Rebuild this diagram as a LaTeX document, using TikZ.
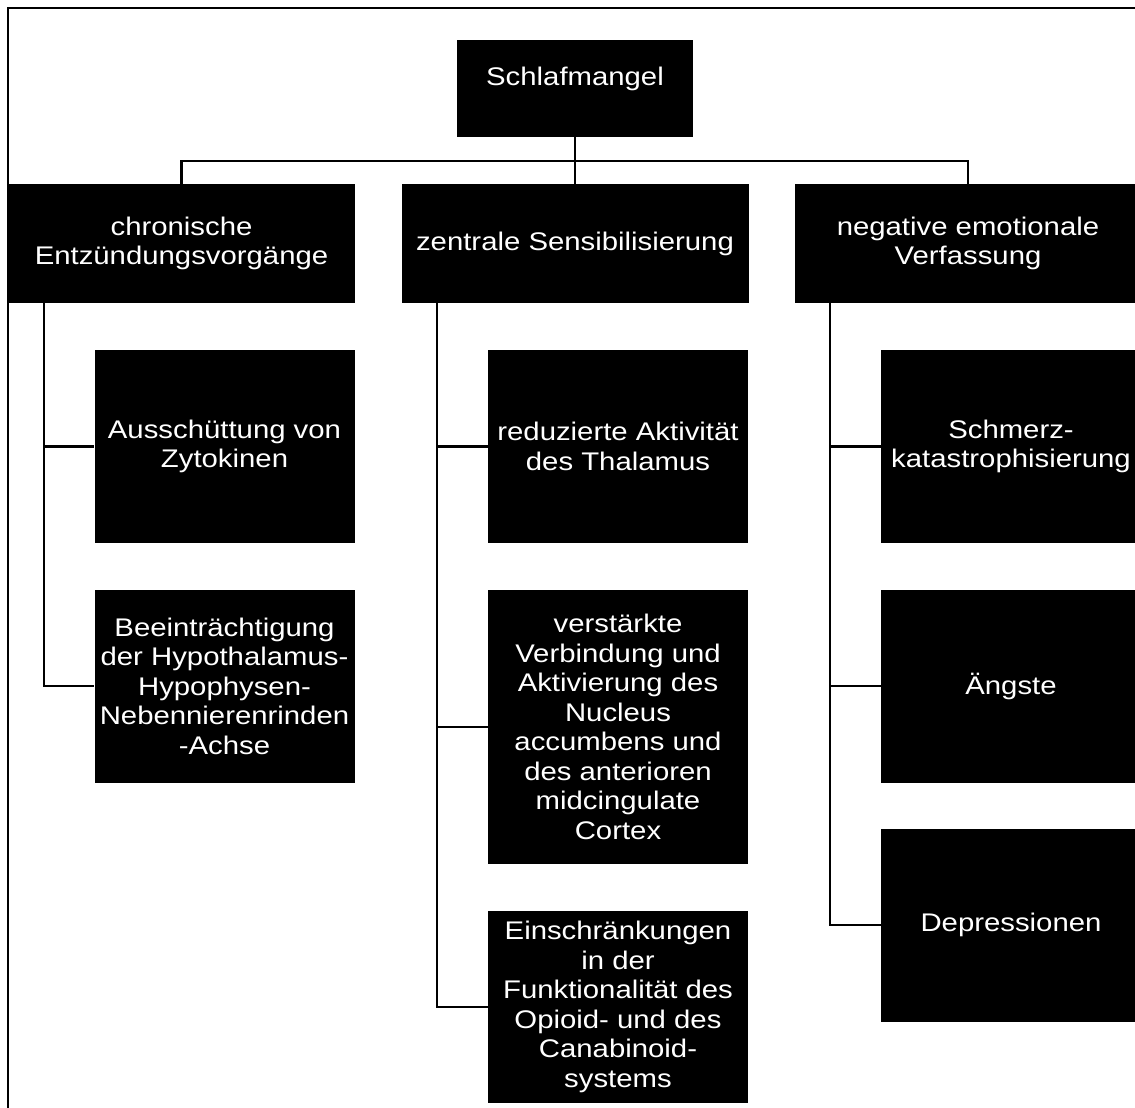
\documentclass[tikz,border=0pt]{standalone}
\usepackage{fontspec}
\setmainfont{Liberation Sans}[FakeStretch=1.15]
\usetikzlibrary{calc}
\tikzset{
  box/.style={fill=black, text=white, align=center, inner sep=0pt,
    font=\fontsize{25.5}{29.5}\selectfont},
  boxlabel/.style={text=white, align=center, inner sep=0pt,
    font=\fontsize{25.5}{29.5}\selectfont},
  link/.style={draw=black, line width=2.2pt},
  frame/.style={draw=black, line width=2pt}
}
\begin{document}
\begin{tikzpicture}[x=1pt,y=-1pt]
\useasboundingbox (0,0) rectangle (1135,1108);
\clip (0,0) rectangle (1135,1108);
\draw[frame] (8,1110) -- (8,8) -- (1137,8);
% level 0
\node[box, minimum width=236pt, minimum height=97pt] (top) at (575,88.5) {};
\node[boxlabel] (toplabel) at ($(top.center)+(0,-10)$) {Schlafmangel};
% level 1
\node[box, minimum width=347pt, minimum height=119pt] (c1) at (181.5,243.5) {chronische\\Entzündungsvorgänge};
\node[box, minimum width=347pt, minimum height=119pt] (c2) at (575,243.5) {zentrale Sensibilisierung};
\node[box, minimum width=346pt, minimum height=119pt] (c3) at (968,243.5) {negative emotionale\\Verfassung};
% column 1
\node[box, minimum width=260pt, minimum height=193pt] (a1) at (224.5,446.5) {Ausschüttung von\\Zytokinen};
\node[box, minimum width=260pt, minimum height=193pt] (a2) at (224.5,686) {Beeinträchtigung\\der Hypothalamus-\\Hypophysen-\\Nebennierenrinden\\-Achse};
% column 2
\node[box, minimum width=260pt, minimum height=193pt] (b1) at (618,446.5) {reduzierte Aktivität\\des Thalamus};
\node[box, minimum width=260pt, minimum height=274pt] (b2) at (618,727) {verstärkte\\Verbindung und\\Aktivierung des\\Nucleus\\accumbens und\\des anterioren\\midcingulate\\Cortex};
\node[box, minimum width=260pt, minimum height=192pt] (b3) at (618,1007) {Einschränkungen\\in der\\Funktionalität des\\Opioid- und des\\Canabinoid-\\systems};
% column 3
\node[box, minimum width=260pt, minimum height=193pt] (d1) at (1011,446.5) {Schmerz-\\katastrophisierung};
\node[box, minimum width=260pt, minimum height=193pt] (d2) at (1011,686) {Ängste};
\node[box, minimum width=260pt, minimum height=193pt] (d3) at (1011,925) {Depressionen};
% connectors
\coordinate (bar) at (0,161);
\draw[link] (top.south) -- (c2.north);
\draw[link] (c1.north) -- (c1.north |- bar) -- (c3.north |- bar) -- (c3.north);
\coordinate (s1) at ($(c1.south west)+(36,0)$);
\coordinate (s2) at ($(c2.south west)+(36,0)$);
\coordinate (s3) at ($(c3.south west)+(35,0)$);
\draw[link] (s1) |- (a2.west);
\draw[link] (s1 |- a1.west) -- (a1.west);
\draw[link] (s2) |- (b3.west);
\draw[link] (s2 |- b1.west) -- (b1.west);
\draw[link] (s2 |- b2.west) -- (b2.west);
\draw[link] (s3) |- (d3.west);
\draw[link] (s3 |- d1.west) -- (d1.west);
\draw[link] (s3 |- d2.west) -- (d2.west);
\end{tikzpicture}
\end{document}
